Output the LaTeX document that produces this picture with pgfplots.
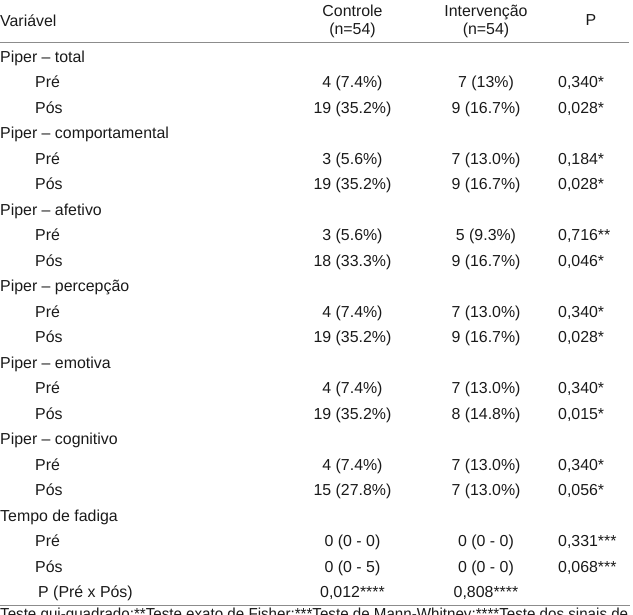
\documentclass[border=0pt]{standalone}
\usepackage{fontspec}
\setmainfont{Liberation Sans}
\usepackage{pgfplots}
\pgfplotsset{compat=1.18}

\definecolor{ink}{HTML}{1A1A1A}
\definecolor{rulegray}{HTML}{8C8C8C}
\newcommand\tabfont{\fontsize{15.9}{18}\selectfont}
\newcommand\fitwide[1]{\resizebox{628pt}{\height}{#1}}

% every table cell is a point whose meta is the cell text
\pgfplotsset{
  cell/.style={only marks, mark=none, point meta=explicit symbolic,
    nodes near coords,
    every node near coord/.append style={anchor=#1, inner sep=0pt,
      font=\tabfont, text=ink}},
  cell/.default=base,
}

\begin{document}
\begin{tikzpicture}
\begin{scope}
\clip (0,0) rectangle (633pt,-615pt);
\begin{axis}[
    at={(0,0)}, anchor=north west,
    x=1pt, y=1pt, y dir=reverse,
    xmin=0, xmax=633, ymin=0, ymax=615,
    hide axis, clip=false,
  ]
  % rules
  \addplot[rulegray, line width=1pt, mark=none] coordinates {(0,42.7) (629,42.7)};
  \addplot[rulegray, line width=1pt, mark=none] coordinates {(0,605.7) (630,605.7)};

  % header
  \addplot[cell=base west] coordinates {(0,26) [Variável]};
  \addplot[cell] coordinates {
    (352.5,16) [Controle] (352.5,34) [(n=54)]
    (486,16) [Intervenção] (486,34) [(n=54)]
    (591,25) [P]
  };

  % variable names
  \addplot[cell=base west] coordinates {
    (0,62.0)  [Piper – total]
    (0,138.6) [Piper – comportamental]
    (0,215.1) [Piper – afetivo]
    (0,291.7) [Piper – percepção]
    (0,368.2) [Piper – emotiva]
    (0,444.8) [Piper – cognitivo]
    (0,521.4) [Tempo de fadiga]
    (38,597.9) [P (Pré x Pós)]
  };
  \addplot[cell=base west] coordinates {
    (35,87.5) [Pré]  (35,113.0) [Pós]
    (35,164.1) [Pré] (35,189.6) [Pós]
    (35,240.6) [Pré] (35,266.2) [Pós]
    (35,317.2) [Pré] (35,342.7) [Pós]
    (35,393.8) [Pré] (35,419.3) [Pós]
    (35,470.3) [Pré] (35,495.8) [Pós]
    (35,546.9) [Pré] (35,572.4) [Pós]
  };

  % Controle (n=54)
  \addplot[cell] coordinates {
    (352.5,87.5)  [4 (7.4\%)]   (352.5,113.0) [19 (35.2\%)]
    (352.5,164.1) [3 (5.6\%)]   (352.5,189.6) [19 (35.2\%)]
    (352.5,240.6) [3 (5.6\%)]   (352.5,266.2) [18 (33.3\%)]
    (352.5,317.2) [4 (7.4\%)]   (352.5,342.7) [19 (35.2\%)]
    (352.5,393.8) [4 (7.4\%)]   (352.5,419.3) [19 (35.2\%)]
    (352.5,470.3) [4 (7.4\%)]   (352.5,495.8) [15 (27.8\%)]
    (352.5,546.9) [0 (0 - 0)]   (352.5,572.4) [0 (0 - 5)]
    (352.5,597.9) [{0,012****}]
  };

  % Intervencao (n=54)
  \addplot[cell] coordinates {
    (486,87.5)  [7 (13\%)]     (486,113.0) [9 (16.7\%)]
    (486,164.1) [7 (13.0\%)]   (486,189.6) [9 (16.7\%)]
    (486,240.6) [5 (9.3\%)]    (486,266.2) [9 (16.7\%)]
    (486,317.2) [7 (13.0\%)]   (486,342.7) [9 (16.7\%)]
    (486,393.8) [7 (13.0\%)]   (486,419.3) [8 (14.8\%)]
    (486,470.3) [7 (13.0\%)]   (486,495.8) [7 (13.0\%)]
    (486,546.9) [0 (0 - 0)]    (486,572.4) [0 (0 - 0)]
    (486,597.9) [{0,808****}]
  };

  % P
  \addplot[cell=base west] coordinates {
    (558,87.5)  [{0,340*}]   (558,113.0) [{0,028*}]
    (558,164.1) [{0,184*}]   (558,189.6) [{0,028*}]
    (558,240.6) [{0,716**}]  (558,266.2) [{0,046*}]
    (558,317.2) [{0,340*}]   (558,342.7) [{0,028*}]
    (558,393.8) [{0,340*}]   (558,419.3) [{0,015*}]
    (558,470.3) [{0,340*}]   (558,495.8) [{0,056*}]
    (558,546.9) [{0,331***}] (558,572.4) [{0,068***}]
  };

  % footnote, cut by the lower edge as in the source
  \addplot[cell=base west] coordinates {
    (0,619) [{\fitwide{Teste qui-quadrado{;}**Teste exato de Fisher{;}***Teste de Mann-Whitney{;}****Teste dos sinais de}}]
  };
\end{axis}
\end{scope}
\pgfresetboundingbox
\path[use as bounding box] (0,0) rectangle (633pt,-615pt);
\end{tikzpicture}
\end{document}
